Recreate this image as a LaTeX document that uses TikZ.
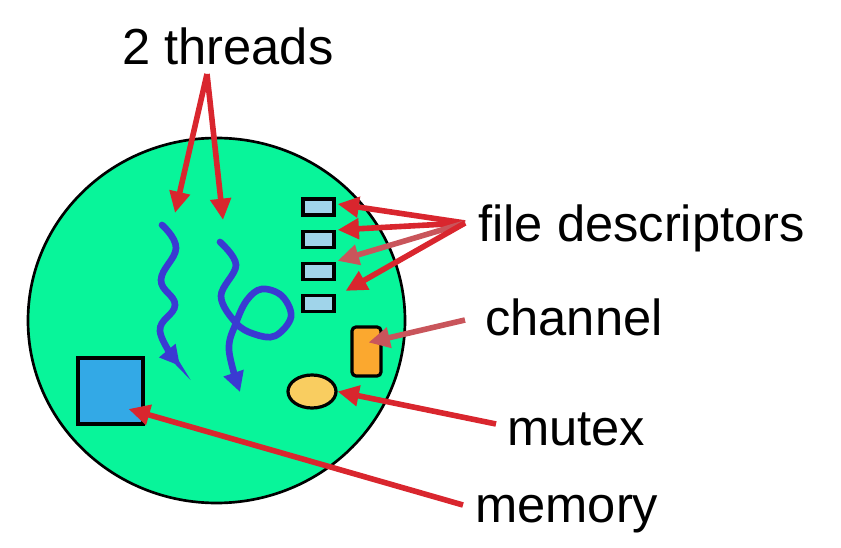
\documentclass[tikz,border=0pt]{standalone}
\usepackage{fontspec}
\setmainfont{Liberation Sans}
\usetikzlibrary{arrows.meta,calc,shapes.geometric}
\definecolor{cellgreen}{HTML}{08F59A}
\definecolor{arrred}{HTML}{D9262E}
\definecolor{arrpale}{HTML}{C9555B}
\definecolor{threadblue}{HTML}{3A3AD2}
\definecolor{fdblue}{HTML}{A0D4EA}
\definecolor{memblue}{HTML}{33A9E6}
\definecolor{chorange}{HTML}{FBA82F}
\definecolor{mxyellow}{HTML}{F9CD60}
\tikzset{
  lbl/.style={anchor=base west, inner sep=0pt, font=\fontsize{38}{45}\selectfont},
  outl/.style={draw=black, line width=2.4pt, inner sep=0pt},
  fdbox/.style={outl, fill=fdblue, rectangle, minimum width=23.25pt, minimum height=12pt},
  redarr/.style={draw=arrred, line width=4.2pt, -{Triangle[length=16pt,width=15pt]}},
  palearr/.style={redarr, draw=arrpale},
  thread/.style={draw=threadblue, line width=5pt, line cap=round, -{Triangle[length=15pt,width=15pt]}}
}
\begin{document}
\begin{tikzpicture}[x=0.75pt,y=-0.75pt]
\useasboundingbox (0,0) rectangle (841,548);
% cell
\node[draw=black, line width=2pt, fill=cellgreen, ellipse, inner sep=0pt,
      minimum width=282.75pt, minimum height=273.75pt] (cell) at (216.5,320.5) {};
% file descriptors
\node[fdbox] (fd1) at (318.5,207) {};
\node[fdbox] (fd2) at (318.5,239.5) {};
\node[fdbox] (fd3) at (318.5,271.5) {};
\node[fdbox] (fd4) at (318.5,303.5) {};
% channel
\node[outl, fill=chorange, rectangle, rounded corners=3pt, minimum width=21.75pt, minimum height=36.75pt] (chan) at (366.5,351.5) {};
% mutex
\node[outl, fill=mxyellow, ellipse, minimum width=36pt, minimum height=24.75pt] (mutex) at (312,391.5) {};
% memory
\node[outl, fill=memblue, rectangle, minimum width=48.75pt, minimum height=49.5pt] (mem) at (110.5,391) {};
% threads
\draw[thread] plot[smooth, tension=0.7] coordinates {(162,225) (176,248) (161,280) (175,305) (160,331) (180,366)};
\draw[thread] plot[smooth, tension=0.6] coordinates {(220,242) (236,265) (221,296) (236,323) (254,334) (275,336) (291,317) (282,296) (262,289) (247,300) (236,323) (229,350) (240,392)};
% labels
\node[lbl] (lthreads) at (122,65) {2 threads};
\node[lbl] (lfd) at (478,242) {file descriptors};
\node[lbl] (lchan) at (485,335) {channel};
\node[lbl] (lmutex) at (507,445) {mutex};
\node[lbl] (lmem) at (475,522) {memory};
% arrow sources and targets
\coordinate (thsrc) at (207,74);
\coordinate (t1) at (175,213);
\coordinate (t2) at (223,220);
\coordinate (fdsrc) at (465,223);
\coordinate (chsrc) at (465,320);
\coordinate (mxsrc) at (496,424);
\coordinate (memsrc) at (463,505);
% arrows
\draw[redarr] (thsrc) -- (t1);
\draw[redarr] (thsrc) -- (t2);
\draw[redarr] (fdsrc) -- ($(fd1.east)+(2,-3)$);
\draw[redarr] (fdsrc) -- ($(fd2.north east)+(2,0)$);
\draw[palearr] (fdsrc) -- ($(fd3.north east)+(2,-1)$);
\draw[redarr] (fdsrc) -- ($(fd4.north east)+(10,-3)$);
\draw[palearr] (chsrc) -- ($(chan.center)+(2,-9)$);
\draw[redarr] (mxsrc) -- (mutex.east);
\draw[redarr] (memsrc) -- ($(mem.center)+(18,18)$);
\end{tikzpicture}
\end{document}
